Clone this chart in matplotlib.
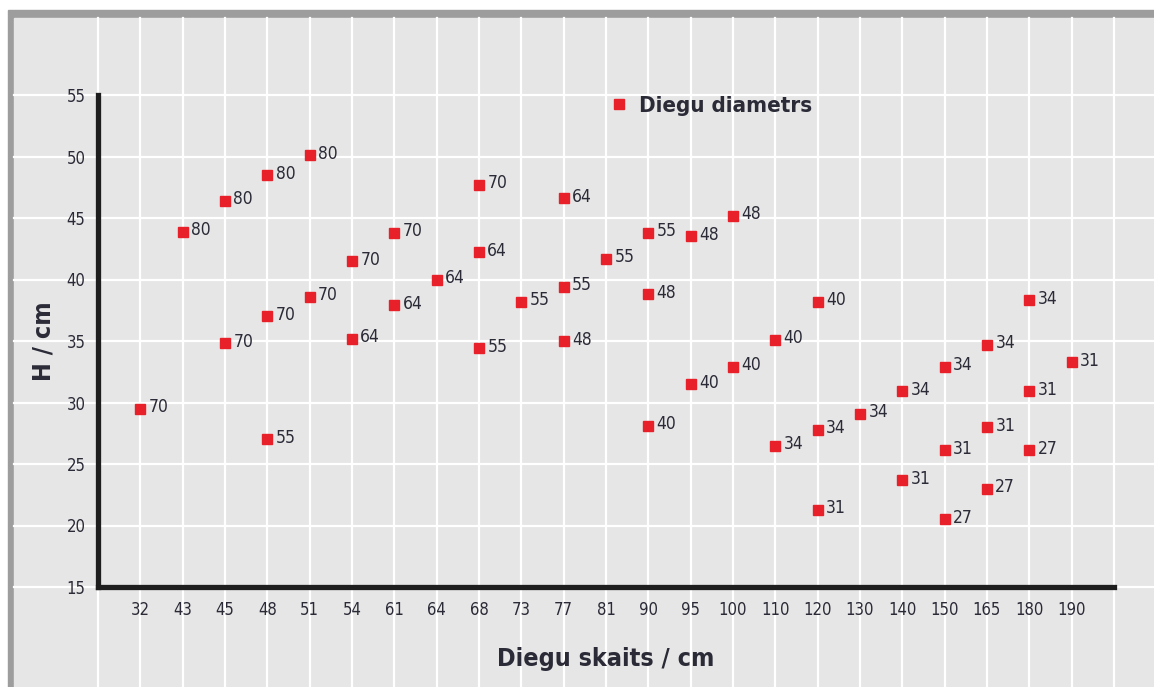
import matplotlib
matplotlib.use("Agg")
import matplotlib.pyplot as plt
import matplotlib.transforms as mtransforms
from matplotlib.patches import Rectangle

# x categories (Diegu skaits / cm)
skaits = ['32', '43', '45', '48', '51', '54', '61', '64', '68', '73', '77', '81',
          '90', '95', '100', '110', '120', '130', '140', '150', '165', '180', '190']
h_ticks = [15, 20, 25, 30, 35, 40, 45, 50, 55]

# points: category, H / cm, diameter label
pt_skaits = ['32', '43', '45', '45', '48', '48', '48', '51', '51', '54', '54',
             '61', '61', '64', '68', '68', '68', '73', '77', '77', '77', '81',
             '90', '90', '90', '95', '95', '100', '100', '110', '110',
             '120', '120', '120', '130', '140', '140', '150', '150', '150',
             '165', '165', '165', '180', '180', '180', '190']
pt_h = [29.5, 43.9, 46.4, 34.8, 48.5, 37.0, 27.0, 50.1, 38.6, 41.5, 35.2,
        43.8, 37.9, 40.0, 47.7, 42.2, 34.4, 38.2, 46.6, 39.4, 35.0, 41.7,
        43.8, 38.8, 28.1, 43.5, 31.5, 45.2, 32.9, 35.1, 26.5,
        38.2, 27.8, 21.3, 29.1, 30.9, 23.7, 32.9, 26.1, 20.5,
        34.7, 28.0, 23.0, 38.3, 30.9, 26.1, 33.3]
pt_d = [70, 80, 80, 70, 80, 70, 55, 80, 70, 70, 64,
        70, 64, 64, 70, 64, 55, 55, 64, 55, 48, 55,
        55, 48, 40, 48, 40, 48, 40, 40, 34,
        40, 34, 31, 34, 34, 31, 34, 31, 27,
        34, 31, 27, 34, 31, 27, 31]

FONT = dict(family='DejaVu Sans', stretch='condensed')
txt_col = '#2b2b38'
red = '#e8202a'

W, H = 1154, 687
fig = plt.figure(figsize=(W / 100, H / 100), dpi=100, facecolor='white')

# grey frame and panel
fig.add_artist(Rectangle((8 / W, 0), 1, (H - 10) / H, transform=fig.transFigure,
                         color='#9d9d9d', zorder=-10))
fig.add_artist(Rectangle((14 / W, 0), 1, (H - 18) / H, transform=fig.transFigure,
                         color='#e6e6e6', zorder=-9))

ax = fig.add_axes([98 / W, (H - 587) / H, (1114 - 98) / W, (587 - 95) / H])
ax.set_facecolor('none')
ax.set_xlim(-1, 23)
ax.set_ylim(15, 55)

# white grid running over the whole panel
tv = mtransforms.blended_transform_factory(ax.transData, fig.transFigure)
th = mtransforms.blended_transform_factory(fig.transFigure, ax.transData)
for i in range(-1, 24):
    ax.plot([i, i], [0, (H - 18) / H], transform=tv, color='white', lw=1.6,
            clip_on=False, zorder=0)
for y in h_ticks:
    ax.plot([14 / W, 1], [y, y], transform=th, color='white', lw=1.6,
            clip_on=False, zorder=0)

xs = [skaits.index(s) for s in pt_skaits]
ax.plot(xs, pt_h, 's', color=red, markersize=7, zorder=3, label='Diegu diametrs')
for x, y, d in zip(xs, pt_h, pt_d):
    ax.annotate(str(d), (x, y), xytext=(6, 1), textcoords='offset points',
                ha='left', va='center', fontsize=12.5, color=txt_col, **FONT)

for side in ['top', 'right']:
    ax.spines[side].set_visible(False)
for side in ['left', 'bottom']:
    ax.spines[side].set_color('#1e1e1e')
    ax.spines[side].set_linewidth(3.8)
    ax.spines[side].set_zorder(4)

ax.set_xticks(range(len(skaits)))
ax.set_xticklabels(skaits)
ax.set_yticks(h_ticks)
ax.tick_params(length=0, labelsize=12, labelcolor=txt_col)
ax.tick_params(axis='x', pad=10)
ax.tick_params(axis='y', pad=9)
for lab in ax.get_xticklabels() + ax.get_yticklabels():
    lab.set_fontfamily(FONT['family'])
    lab.set_fontstretch(FONT['stretch'])

ax.set_xlabel('Diegu skaits / cm', fontsize=18, fontweight='bold', color=txt_col,
              labelpad=20, **FONT)
ax.set_ylabel('H / cm', fontsize=18, fontweight='bold', color=txt_col,
              labelpad=8, **FONT)

ax.legend(loc='center left', bbox_to_anchor=(590 / W, (H - 106) / H),
          bbox_transform=fig.transFigure, frameon=False, handlelength=0.8,
          handletextpad=0.5, prop=dict(size=16, weight='bold', **FONT),
          labelcolor=txt_col)

fig.savefig('out.png', dpi=100, facecolor='white')
